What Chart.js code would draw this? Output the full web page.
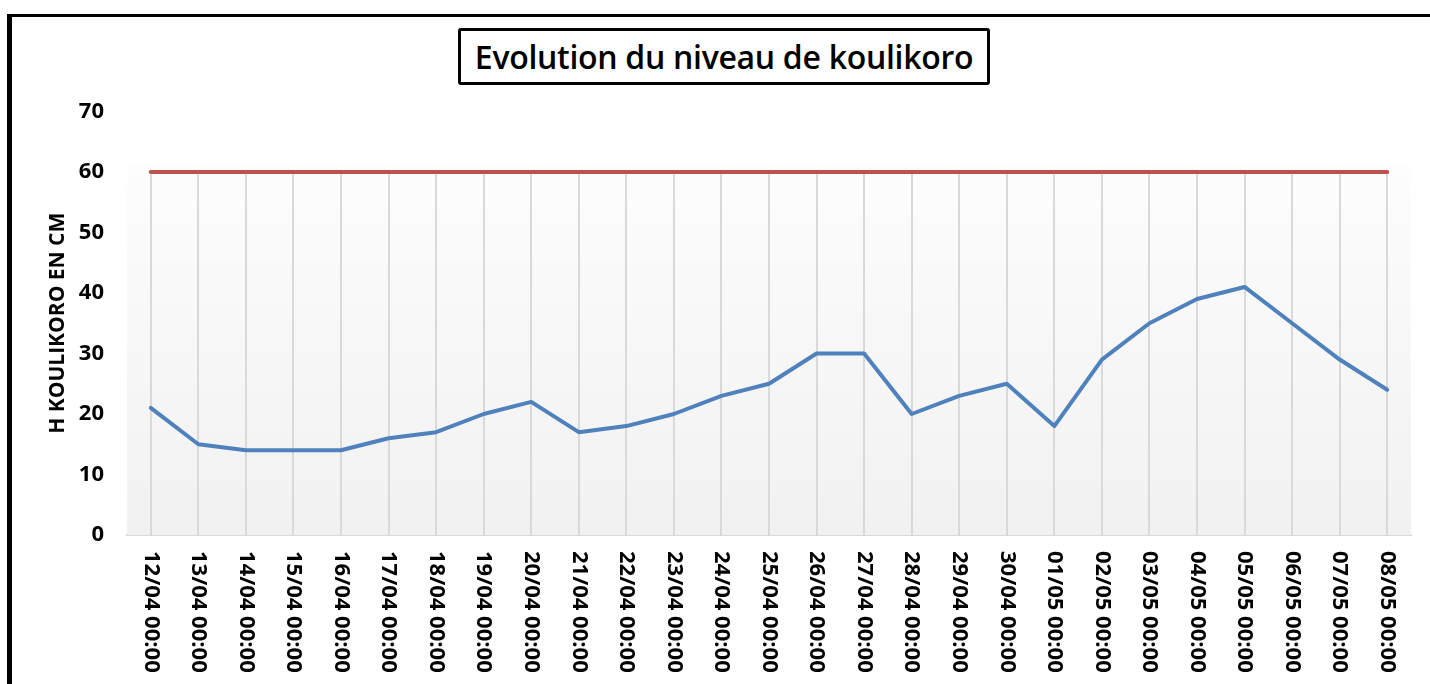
<!DOCTYPE html>
<html>
<head>
<meta charset="utf-8">
<script src="https://cdn.jsdelivr.net/npm/chart.js@4.4.1/dist/chart.umd.min.js"></script>
<style>
    html, body { margin: 0; padding: 0; background: #ffffff; overflow: hidden; }
    #cadre {
        position: absolute; left: 7px; top: 14px; width: 2000px; height: 2000px;
        border-left: 5px solid #000; border-top: 3px solid #000;
    }
    #titre {
        position: absolute; left: 458px; top: 28px; width: 532px; height: 57px;
        box-sizing: border-box; border: 3px solid #000; border-radius: 3px; background: #fff;
        display: flex; align-items: center; justify-content: center;
        font-family: "Open Sans", sans-serif; font-size: 32px; font-weight: 600; color: #000; z-index: 2;
        white-space: nowrap; letter-spacing: -0.3px;
    }
    #div_grafico { position: absolute; left: 0; top: 0; width: 1430px; height: 684px; }
</style>
</head>
<body>
<div id="cadre"></div>
<div id="titre">Evolution du niveau de koulikoro</div>
<div id="div_grafico"><canvas id="grafico"></canvas></div>
<script>
// donnees
const dates = ['12/04 00:00', '13/04 00:00', '14/04 00:00', '15/04 00:00', '16/04 00:00', '17/04 00:00',
    '18/04 00:00', '19/04 00:00', '20/04 00:00', '21/04 00:00', '22/04 00:00', '23/04 00:00',
    '24/04 00:00', '25/04 00:00', '26/04 00:00', '27/04 00:00', '28/04 00:00', '29/04 00:00',
    '30/04 00:00', '01/05 00:00', '02/05 00:00', '03/05 00:00', '04/05 00:00', '05/05 00:00',
    '06/05 00:00', '07/05 00:00', '08/05 00:00'];
const niveau = [21, 15, 14, 14, 14, 16, 17, 20, 22, 17, 18, 20, 23, 25, 30, 30, 20, 23, 25, 18, 29, 35, 39, 41, 35, 29, 24];
const seuil = [60, 60, 60, 60, 60, 60, 60, 60, 60, 60, 60, 60, 60, 60, 60, 60, 60, 60, 60, 60, 60, 60, 60, 60, 60, 60, 60];
const yTicks = [0, 10, 20, 30, 40, 50, 60, 70];

const police = '"Open Sans", sans-serif';

// fond degrade + lignes de projection (drop lines) comme dans Excel
const fondPlugin = {
    id: 'fond',
    beforeDatasetsDraw(chart) {
        const ctx = chart.ctx, x = chart.scales.x, y = chart.scales.y;
        const area = chart.chartArea;
        const haut = y.getPixelForValue(61);
        const grad = ctx.createLinearGradient(0, haut, 0, area.bottom);
        grad.addColorStop(0, '#fdfdfd');
        grad.addColorStop(1, '#f1f1f1');
        ctx.save();
        ctx.fillStyle = grad;
        ctx.fillRect(area.left, haut, area.right - area.left, area.bottom - haut);
        ctx.strokeStyle = '#d9d9d9';
        ctx.lineWidth = 2;
        dates.forEach((d, i) => {
            const maxi = Math.max(...chart.data.datasets.map(ds => ds.data[i]));
            const px = Math.round(x.getPixelForValue(i));
            ctx.beginPath();
            ctx.moveTo(px, y.getPixelForValue(maxi));
            ctx.lineTo(px, area.bottom);
            ctx.stroke();
        });
        ctx.restore();
    },
    afterDraw(chart) {
        // etiquettes de l'axe x tournees dans le sens horaire
        const ctx = chart.ctx, x = chart.scales.x;
        ctx.save();
        ctx.fillStyle = '#000';
        ctx.font = 'bold 22px ' + police;
        ctx.textAlign = 'left';
        ctx.textBaseline = 'middle';
        dates.forEach((d, i) => {
            ctx.save();
            ctx.translate(x.getPixelForValue(i), chart.chartArea.bottom + 16);
            ctx.rotate(Math.PI / 2);
            ctx.fillText(d, 0, 0);
            ctx.restore();
        });
        ctx.restore();
    }
};

const graficoLinha = new Chart(document.getElementById('grafico'), {
    type: 'line',
    data: {
        labels: dates,
        datasets: [{
            label: 'Seuil',
            data: seuil,
            borderColor: '#c0504d',
            borderWidth: 4,
            borderCapStyle: 'round',
            pointRadius: 0,
            tension: 0
        }, {
            label: 'H Koulikoro',
            data: niveau,
            borderColor: '#4f81bd',
            borderWidth: 4,
            borderCapStyle: 'round',
            borderJoinStyle: 'round',
            pointRadius: 0,
            tension: 0
        }]
    },
    options: {
        responsive: true,
        maintainAspectRatio: false,
        animation: false,
        layout: { padding: { top: 111.5, right: 19, left: 0, bottom: 0 } },
        plugins: {
            legend: { display: false },
            tooltip: { enabled: false },
            title: { display: false }
        },
        scales: {
            x: {
                offset: true,
                grid: { display: false },
                border: { display: true, color: '#d9d9d9', width: 2 },
                ticks: { display: false },
                afterFit: s => { s.height = 149; }
            },
            y: {
                min: 0,
                max: 70,
                afterBuildTicks: s => { s.ticks = yTicks.map(v => ({ value: v })); },
                grid: { display: false, drawTicks: false },
                border: { display: false },
                ticks: {
                    color: '#000',
                    padding: 23,
                    font: { family: police, size: 22, weight: 'bold' }
                },
                title: {
                    display: true,
                    text: 'H KOULIKORO EN CM',
                    color: '#000',
                    padding: { top: 45, bottom: 0 },
                    font: { family: police, size: 21, weight: 'bold' }
                },
                afterFit: s => { s.width = 127; }
            }
        }
    },
    plugins: [fondPlugin]
});
</script>
</body>
</html>
